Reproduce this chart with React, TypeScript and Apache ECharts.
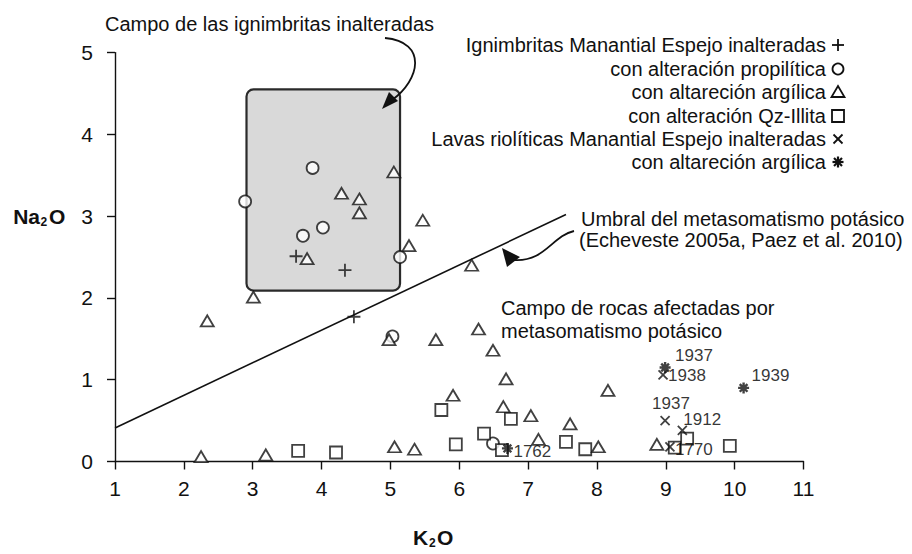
import React, { useEffect, useRef } from 'react';
import * as echarts from 'echarts';

// ---- Data (K2O, Na2O) ----
const ignimbritasInalteradas = [[3.63, 2.51], [4.34, 2.34], [4.47, 1.77]];
const propilitica = [[2.89, 3.18], [3.87, 3.59], [4.02, 2.86], [3.73, 2.76], [5.14, 2.50], [5.03, 1.53], [6.49, 0.22]];
const argilica = [
  [4.29, 3.28], [4.55, 3.21], [4.55, 3.04], [5.05, 3.54], [5.47, 2.95], [5.27, 2.64], [3.79, 2.48],
  [6.18, 2.40], [3.01, 2.01], [2.34, 1.72], [4.98, 1.49], [5.66, 1.49], [6.28, 1.62], [6.49, 1.36],
  [6.68, 1.01], [5.91, 0.81], [6.64, 0.67], [7.04, 0.56], [7.61, 0.46], [8.16, 0.87], [7.15, 0.27],
  [8.02, 0.18], [8.87, 0.21], [5.06, 0.18], [5.35, 0.15], [3.19, 0.08], [2.25, 0.06],
];
const qzIllita = [
  [5.74, 0.63], [6.36, 0.34], [5.95, 0.21], [6.75, 0.52], [6.62, 0.14], [7.55, 0.24], [7.83, 0.15],
  [4.21, 0.11], [3.66, 0.13], [9.13, 0.17], [9.31, 0.28], [9.93, 0.19],
];
const lavasInalteradas = [[8.96, 1.06], [8.99, 0.50], [9.24, 0.38], [9.06, 0.18]];
const lavasInalteradasLabels = ['1938', '1937', '1912', '1770'];
const lavasArgilica = [[6.70, 0.16], [8.99, 1.15], [10.13, 0.90]];
const lavasArgilicaLabels = ['1762', '1937', '1939'];
const umbral = [[1, 0.41], [7.55, 3.02]];
const campoIgnimbritas = [[2.91, 2.09, 5.14, 4.55]];

const xMin = 1, xMax = 11, yMin = 0, yMax = 5;

const legendTexts = [
  'Ignimbritas Manantial Espejo inalteradas',
  'con alteración propilítica',
  'con altareción argílica',
  'con alteración Qz-Illita',
  'Lavas riolíticas Manantial Espejo inalteradas',
  'con altareción argílica',
];

const FONT = '"Liberation Sans", Arial, Helvetica, sans-serif';
const INK = '#111';

const PLUS = 'path://M0,6L12,6M6,0L6,12';
const CROSS = 'path://M0,0L10,10M10,0L0,10';
const STAR = 'path://M0,6L12,6M6,0L6,12M1.8,1.8L10.2,10.2M10.2,1.8L1.8,10.2';

// label placement (relative to symbol box) for annotated lavas points
const lavasInalteradasLabelPos: Record<string, number[]> = {
  '1938': [12, 8],
  '1937': [-6, -10],
  '1912': [8, -4],
  '1770': [12, 10],
};
const lavasArgilicaLabelPos: Record<string, number[]> = {
  '1762': [14, 11],
  '1937': [18, -4],
  '1939': [16, -4],
};

function pt(x: number, y: number) {
  return [x, y];
}

export default function App() {
  const ref = useRef<HTMLDivElement>(null);
  useEffect(() => {
    if (!ref.current) return;
    const chart = echarts.init(ref.current, null, { renderer: 'svg' });

    const markerStyle = { color: '#fff', borderColor: INK, borderWidth: 1.8 };
    const lineMarkerStyle = { color: 'none', borderColor: INK, borderWidth: 1.8 };

    const labelBase = { show: true, fontSize: 17, fontFamily: FONT, color: '#000', align: 'left', verticalAlign: 'middle' };

    // legend graphics
    const lx = 838;
    const ly = [45, 69, 92, 116, 139, 162];
    const legendGraphics: any[] = [];
    legendTexts.forEach((t, i) => {
      legendGraphics.push({
        type: 'text', x: 826, y: ly[i], z: 10,
        style: { text: t, fill: INK, font: `20px ${FONT}`, textAlign: 'right', textVerticalAlign: 'middle', align: 'right', verticalAlign: 'middle' },
      });
    });
    const ls = { stroke: INK, lineWidth: 1.8, fill: 'none' };
    const lsb = { ...ls, lineWidth: 2.2 };
    legendGraphics.push(
      { type: 'line', z: 10, shape: { x1: lx - 6, y1: ly[0], x2: lx + 6, y2: ly[0] }, style: ls },
      { type: 'line', z: 10, shape: { x1: lx, y1: ly[0] - 6, x2: lx, y2: ly[0] + 6 }, style: ls },
      { type: 'circle', z: 10, shape: { cx: lx, cy: ly[1], r: 5.5 }, style: { ...ls, fill: '#fff' } },
      { type: 'polygon', z: 10, shape: { points: [[lx - 6.5, ly[2] + 5], [lx + 6.5, ly[2] + 5], [lx, ly[2] - 6]] }, style: { ...ls, fill: '#fff' } },
      { type: 'rect', z: 10, shape: { x: lx - 6, y: ly[3] - 6, width: 12, height: 12 }, style: { ...ls, fill: '#fff' } },
      { type: 'line', z: 10, shape: { x1: lx - 4.5, y1: ly[4] - 4.5, x2: lx + 4.5, y2: ly[4] + 4.5 }, style: ls },
      { type: 'line', z: 10, shape: { x1: lx + 4.5, y1: ly[4] - 4.5, x2: lx - 4.5, y2: ly[4] + 4.5 }, style: ls },
      { type: 'line', z: 10, shape: { x1: lx - 5.5, y1: ly[5], x2: lx + 5.5, y2: ly[5] }, style: lsb },
      { type: 'line', z: 10, shape: { x1: lx, y1: ly[5] - 5.5, x2: lx, y2: ly[5] + 5.5 }, style: lsb },
      { type: 'line', z: 10, shape: { x1: lx - 4, y1: ly[5] - 4, x2: lx + 4, y2: ly[5] + 4 }, style: lsb },
      { type: 'line', z: 10, shape: { x1: lx + 4, y1: ly[5] - 4, x2: lx - 4, y2: ly[5] + 4 }, style: lsb },
    );

    const textEl = (text: string, x: number, y: number, opts: any = {}) => ({
      type: 'text', x, y, z: 10,
      style: {
        text, fill: INK, font: `${opts.bold ? 'bold ' : ''}${opts.size || 20}px ${FONT}`,
        textAlign: opts.align || 'left', align: opts.align || 'left',
        textVerticalAlign: 'middle', verticalAlign: 'middle',
      },
    });

    const annotations: any[] = [
      textEl('Campo de las ignimbritas inalteradas', 105, 24),
      textEl('Umbral del metasomatismo potásico', 581, 219),
      textEl('(Echeveste 2005a, Paez et al. 2010)', 579, 240),
      textEl('Campo de rocas afectadas por', 501, 308),
      textEl('metasomatismo potásico', 501, 331),
      // Na2O
      textEl('Na', 40, 216, { bold: true, size: 21, align: 'right' }),
      textEl('2', 40.5, 222, { bold: true, size: 12 }),
      textEl('O', 49, 216, { bold: true, size: 21 }),
      // K2O
      textEl('K', 413, 537, { bold: true, size: 21 }),
      textEl('2', 429, 543, { bold: true, size: 12 }),
      textEl('O', 437, 537, { bold: true, size: 21 }),
      // arrow 1
      { type: 'bezierCurve', z: 10, shape: { x1: 385, y1: 38, x2: 392, y2: 100, cpx1: 428, cpy1: 42, cpx2: 420, cpy2: 80 }, style: { stroke: INK, lineWidth: 1.8, fill: 'none' } },
      { type: 'polygon', z: 10, shape: { points: [[382, 109], [398, 101], [389, 92]] }, style: { fill: INK } },
      // arrow 2
      { type: 'bezierCurve', z: 10, shape: { x1: 574, y1: 231, x2: 514, y2: 260, cpx1: 552, cpy1: 236, cpx2: 545, cpy2: 262 }, style: { stroke: INK, lineWidth: 1.8, fill: 'none' } },
      { type: 'polygon', z: 10, shape: { points: [[502, 248], [507, 267], [520, 257]] }, style: { fill: INK } },
    ];

    const option: any = {
      animation: false,
      backgroundColor: '#fff',
      textStyle: { fontFamily: FONT },
      grid: { left: 115, right: 108.5, top: 52.6, bottom: 92.5, containLabel: false },
      xAxis: {
        type: 'value', min: xMin, max: xMax, interval: 1,
        splitLine: { show: false },
        axisLine: { show: true, onZero: false, lineStyle: { color: INK, width: 1.4 } },
        axisTick: { show: true, length: 8, lineStyle: { color: INK, width: 1.4 } },
        axisLabel: { color: INK, fontSize: 21, fontFamily: FONT, margin: 16 },
      },
      yAxis: {
        type: 'value', min: yMin, max: yMax, interval: 1,
        splitLine: { show: false },
        axisLine: { show: true, onZero: false, lineStyle: { color: INK, width: 1.4 } },
        axisTick: { show: true, length: 8, lineStyle: { color: INK, width: 1.4 } },
        axisLabel: { color: INK, fontSize: 21, fontFamily: FONT, margin: 22 },
      },
      series: [
        {
          type: 'custom', z: 1, silent: true,
          data: campoIgnimbritas,
          renderItem: (params: any, api: any) => {
            const p0 = api.coord([api.value(0), api.value(3)]);
            const p1 = api.coord([api.value(2), api.value(1)]);
            return {
              type: 'rect',
              shape: { x: p0[0], y: p0[1], width: p1[0] - p0[0], height: p1[1] - p0[1], r: 7 },
              style: { fill: '#d9d9d9', stroke: '#2a2a2a', lineWidth: 2.2 },
            };
          },
        },
        {
          type: 'line', z: 2, data: umbral, symbol: 'none', silent: true,
          lineStyle: { color: INK, width: 1.6 },
        },
        { name: 'Ignimbritas inalteradas', type: 'scatter', z: 3, data: ignimbritasInalteradas, symbol: PLUS, symbolSize: 13, itemStyle: lineMarkerStyle },
        { name: 'propilitica', type: 'scatter', z: 3, data: propilitica, symbol: 'circle', symbolSize: 12, itemStyle: markerStyle },
        { name: 'argilica', type: 'scatter', z: 4, data: argilica, symbol: 'triangle', symbolSize: [13, 11], itemStyle: markerStyle },
        { name: 'qzIllita', type: 'scatter', z: 3, data: qzIllita, symbol: 'rect', symbolSize: 12, itemStyle: markerStyle },
        {
          name: 'lavas inalteradas', type: 'scatter', z: 5, symbol: CROSS, symbolSize: 9, itemStyle: lineMarkerStyle,
          data: lavasInalteradas.map((p, i) => ({
            value: pt(p[0], p[1]), name: lavasInalteradasLabels[i],
            label: { ...labelBase, position: lavasInalteradasLabelPos[lavasInalteradasLabels[i]], formatter: '{b}' },
          })),
        },
        {
          name: 'lavas argilica', type: 'scatter', z: 5, symbol: STAR, symbolSize: 11, itemStyle: { ...lineMarkerStyle, borderWidth: 2.4 },
          data: lavasArgilica.map((p, i) => ({
            value: pt(p[0], p[1]), name: lavasArgilicaLabels[i],
            label: { ...labelBase, position: lavasArgilicaLabelPos[lavasArgilicaLabels[i]], formatter: '{b}' },
          })),
        },
      ],
      graphic: [...legendGraphics, ...annotations],
    };
    chart.setOption(option);
    return () => chart.dispose();
  }, []);
  return <div ref={ref} style={{ position: 'fixed', left: 0, top: 0, width: 912, height: 554, background: '#fff' }} />;
}
